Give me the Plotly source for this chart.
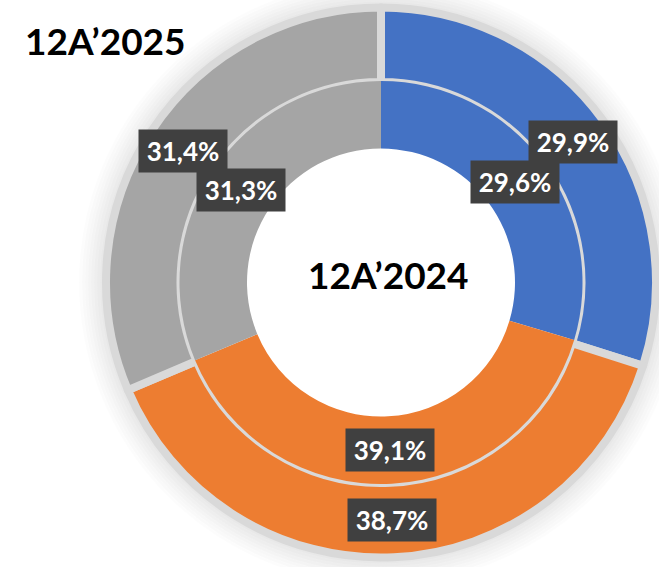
import math
import plotly.graph_objects as go

# Shares by segment, two periods
segments = ["Segment A", "Segment B", "Segment C"]
share_2025 = [29.9, 38.7, 31.4]   # outer ring
share_2024 = [29.6, 39.1, 31.3]   # inner ring
label_2025 = ["29,9%", "38,7%", "31,4%"]
label_2024 = ["29,6%", "39,1%", "31,3%"]
title_outer = "12A’2025"
title_inner = "12A’2024"

colors = ["#4472C4", "#ED7D31", "#A5A5A5"]
gap_color = "#D9D9D9"

# Page geometry (pixels)
W, H = 659, 567
CX, CY = 381, 282.5
R_OUT, R_OUT_HOLE = 271, 204.5     # visible coloured band of outer ring
R_IN, R_IN_HOLE = 201.5, 134       # inner ring
GAP = 8                            # separator stroke between outer slices


def domain(r):
    return dict(x=[(CX - r) / W, (CX + r) / W],
                y=[1 - (CY + r) / H, 1 - (CY - r) / H])


def to_paper(px, py):
    return px / W, 1 - py / H


fig = go.Figure()

r_outer_path = R_OUT + GAP / 2
fig.add_trace(go.Pie(
    labels=segments, values=share_2025, sort=False, direction="clockwise",
    rotation=0, hole=(R_OUT_HOLE - GAP / 2) / r_outer_path,
    domain=domain(r_outer_path),
    marker=dict(colors=colors, line=dict(color=gap_color, width=GAP)),
    textinfo="none", hoverinfo="skip", showlegend=False,
))
fig.add_trace(go.Pie(
    labels=segments, values=share_2024, sort=False, direction="clockwise",
    rotation=0, hole=R_IN_HOLE / R_IN,
    domain=domain(R_IN),
    marker=dict(colors=colors, line=dict(width=0)),
    textinfo="none", hoverinfo="skip", showlegend=False,
))

# Soft halo around the outer ring: thin concentric bands fading outward
shapes = []
for i in range(9):
    r = R_OUT + 5.5 + i * 3
    x0, y0 = to_paper(CX - r, CY + r)
    x1, y1 = to_paper(CX + r, CY - r)
    alpha = 0.10 * (1 - i / 9)
    shapes.append(dict(type="circle", xref="paper", yref="paper",
                       x0=x0, y0=y0, x1=x1, y1=y1, layer="below",
                       line=dict(width=3, color=f"rgba(0,0,0,{alpha:.3f})"),
                       fillcolor="rgba(0,0,0,0)"))


def value_labels(values, texts, radius):
    out = []
    total = sum(values)
    cum = 0
    for v, t in zip(values, texts):
        mid = (cum + v / 2) / total * 2 * math.pi
        cum += v
        px = CX + radius * math.sin(mid)
        py = CY - radius * math.cos(mid)
        x, y = to_paper(px, py)
        out.append(dict(
            x=x, y=y, xref="paper", yref="paper", text=t, showarrow=False,
            xanchor="center", yanchor="middle", width=88, height=42,
            bgcolor="#404040", borderpad=0,
            font=dict(family="Lato", size=26, color="white", weight="bold"),
        ))
    return out


annotations = []
annotations += value_labels(share_2025, label_2025, (R_OUT + R_OUT_HOLE) / 2)
annotations += value_labels(share_2024, label_2024, (R_IN + R_IN_HOLE) / 2)

tx, ty = to_paper(105, 41)
annotations.append(dict(x=tx, y=ty, xref="paper", yref="paper", text=title_outer,
                        showarrow=False, xanchor="center", yanchor="middle",
                        font=dict(family="Lato", size=37, color="black", weight="bold")))
tx, ty = to_paper(388, 274)
annotations.append(dict(x=tx, y=ty, xref="paper", yref="paper", text=title_inner,
                        showarrow=False, xanchor="center", yanchor="middle",
                        font=dict(family="Lato", size=37, color="black", weight="bold")))

fig.update_layout(
    width=W, height=H, margin=dict(l=0, r=0, t=0, b=0),
    paper_bgcolor="white", plot_bgcolor="white",
    shapes=shapes, annotations=annotations,
)

fig.write_html("out.html")
